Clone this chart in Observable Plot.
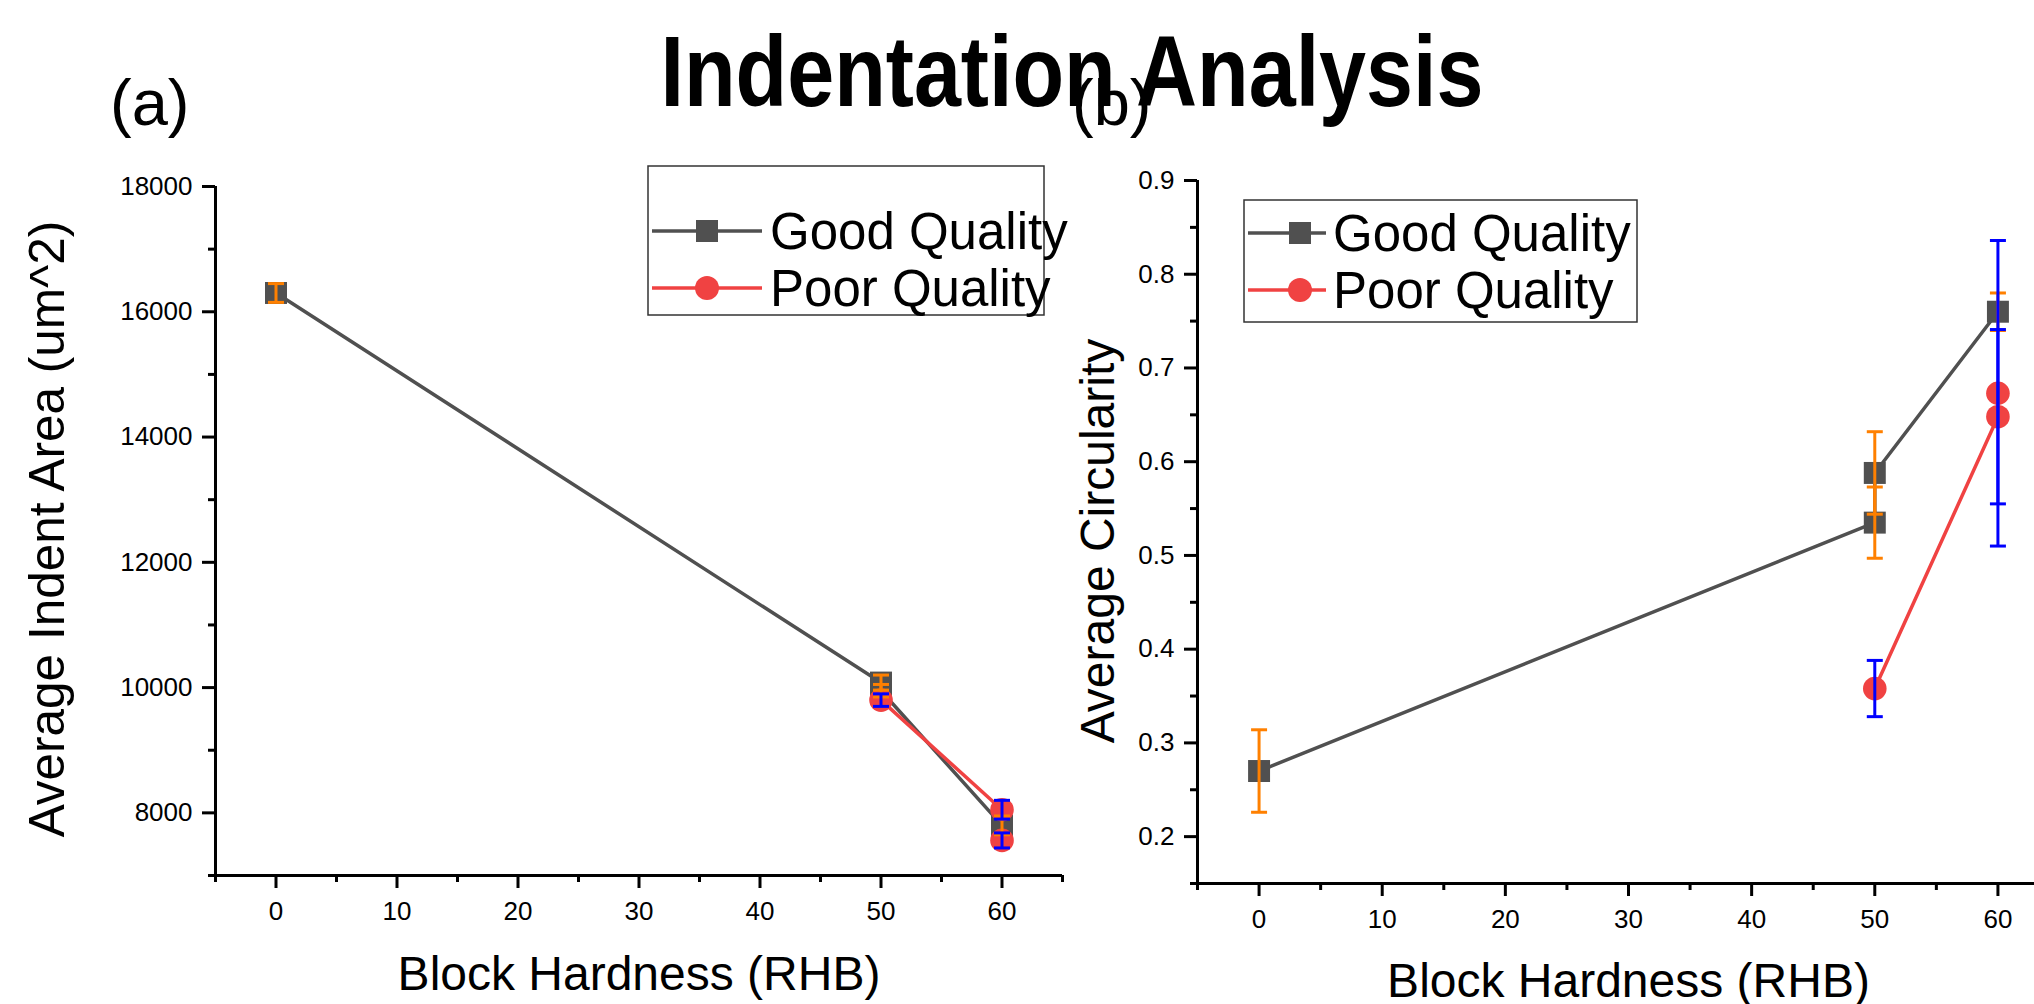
<!DOCTYPE html>
<html><head><meta charset="utf-8">
<script src="https://cdn.jsdelivr.net/npm/d3@7"></script>
<script src="https://cdn.jsdelivr.net/npm/@observablehq/plot@0.6"></script>
<style>
html,body{margin:0;padding:0;background:#fff;overflow:hidden;width:2034px;height:1004px;}
#root{position:relative;width:2034px;height:1004px;font-family:"Liberation Sans",Arial,sans-serif;overflow:hidden;}
.panel{position:absolute;top:0;}
#overlay{position:absolute;left:0;top:0;pointer-events:none;}
</style></head><body><div id="root"></div>
<script>
// ---------- data ----------
const seriesNames = ["Good Quality", "Poor Quality"];
const xTicks = [0, 10, 20, 30, 40, 50, 60];
const xMinor = [-5, 5, 15, 25, 35, 45, 55, 65];

// (a) Average Indent Area
const aGoodX = [0, 50, 50, 60];
const aGoodY = [16300, 10080, 9950, 7800];
const aGoodErr = [150, 120, 100, 150];
const aPoorX = [50, 60, 60];
const aPoorY = [9800, 8050, 7560];
const aPoorErr = [100, 150, 120];
const aYTicks = [8000, 10000, 12000, 14000, 16000, 18000];
const aYMinor = [7000, 9000, 11000, 13000, 15000, 17000];

// (b) Average Circularity
const bGoodX = [0, 50, 50, 60];
const bGoodY = [0.270, 0.535, 0.588, 0.760];
const bGoodErr = [0.044, 0.038, 0.044, 0.020];
const bPoorX = [50, 60, 60];
const bPoorY = [0.358, 0.648, 0.673];
const bPoorErr = [0.030, 0.093, 0.163];
const bYTicks = [0.2, 0.3, 0.4, 0.5, 0.6, 0.7, 0.8, 0.9];
const bYMinor = [0.15, 0.25, 0.35, 0.45, 0.55, 0.65, 0.75, 0.85];

// ---------- styles ----------
const GRAY = "#505050", RED = "#F04242", ORANGE = "#FF8000", BLUE = "#0000FF";
const FONT = "'Liberation Sans', Arial, sans-serif";

const rows = (xs, ys, es) => xs.map((x, i) => ({x, y: ys[i], err: es[i]}));
const capSymbol = {draw(ctx) { ctx.moveTo(-8, 0); ctx.lineTo(8, 0); }};

function errorBars(data, color) {
  const caps = data.flatMap(d => [{x: d.x, y: d.y - d.err}, {x: d.x, y: d.y + d.err}]);
  return [
    Plot.ruleX(data, {x: "x", y1: d => d.y - d.err, y2: d => d.y + d.err, stroke: color, strokeWidth: 3}),
    Plot.dot(caps, {x: "x", y: "y", symbol: capSymbol, r: 8, fill: "none", stroke: color, strokeWidth: 3})
  ];
}

function panel(o) {
  const good = rows(o.gx, o.gy, o.ge), poor = rows(o.px, o.py, o.pe);
  return Plot.plot({
    width: o.width, height: 1004,
    marginLeft: o.ml, marginRight: o.mr, marginTop: o.mt, marginBottom: o.mb,
    style: {fontFamily: FONT, background: "transparent", overflow: "visible", color: "#000"},
    x: {domain: [-5, 65], label: null},
    y: {domain: o.yDomain, label: null},
    marks: [
      Plot.line(good, {x: "x", y: "y", stroke: GRAY, strokeWidth: 3.5}),
      Plot.line(poor, {x: "x", y: "y", stroke: RED, strokeWidth: 3.5}),
      Plot.dot(good, {x: "x", y: "y", symbol: "square", r: 12.4, fill: GRAY, stroke: "none"}),
      Plot.dot(poor, {x: "x", y: "y", symbol: "circle", r: 11.8, fill: RED, stroke: "none"}),
      ...errorBars(good, ORANGE),
      ...errorBars(poor, BLUE),
      Plot.axisX(xMinor, {anchor: "bottom", tickSize: 7, strokeWidth: 3, tickFormat: () => "", label: null}),
      Plot.axisX(xTicks, {anchor: "bottom", tickSize: 13, tickPadding: 13, strokeWidth: 3, fontSize: 26, tickFormat: d => String(d), label: null}),
      Plot.axisY(o.yMinor, {anchor: "left", tickSize: 7, strokeWidth: 3, tickFormat: () => "", label: null}),
      Plot.axisY(o.yTicks, {anchor: "left", tickSize: 13, tickPadding: 10, strokeWidth: 3, fontSize: 26, tickFormat: o.yFmt, label: null}),
      Plot.ruleY([o.yDomain[0]], {stroke: "#000", strokeWidth: 3}),
      Plot.ruleX([-5], {stroke: "#000", strokeWidth: 3}),
      Plot.text(["Block Hardness (RHB)"], {frameAnchor: "bottom", textAnchor: "middle", lineAnchor: "top", dy: o.xTitleDy, fontSize: 48, text: d => d, fill: "#000"}),
      Plot.text([o.yTitle], {frameAnchor: "left", textAnchor: "middle", lineAnchor: "middle", rotate: -90, dx: o.yTitleDx, dy: o.yTitleDy, fontSize: o.yTitleSize, text: d => d, fill: "#000"})
    ]
  });
}

const root = document.getElementById("root");

const left = panel({
  width: 1090, ml: 215, mr: 28, mt: 186, mb: 129,
  yDomain: [7000, 18000], yTicks: aYTicks, yMinor: aYMinor, yFmt: d => String(d),
  gx: aGoodX, gy: aGoodY, ge: aGoodErr, px: aPoorX, py: aPoorY, pe: aPoorErr,
  yTitle: "Average Indent Area (um^2)", yTitleDx: -167, yTitleDy: -2, yTitleSize: 49.5, xTitleDy: 80
});
left.classList.add("panel"); left.style.left = "0px";
root.appendChild(left);

const right = panel({
  width: 1050, ml: 157, mr: 31, mt: 180, mb: 121,
  yDomain: [0.15, 0.9], yTicks: bYTicks, yMinor: bYMinor, yFmt: d => d.toFixed(1),
  gx: bGoodX, gy: bGoodY, ge: bGoodErr, px: bPoorX, py: bPoorY, pe: bPoorErr,
  yTitle: "Average Circularity", yTitleDx: -99, yTitleDy: 9, yTitleSize: 48, xTitleDy: 79
});
right.classList.add("panel"); right.style.left = "1040px";
root.appendChild(right);

// ---------- overlay: title, panel letters, legends ----------
const NS = "http://www.w3.org/2000/svg";
const ov = document.createElementNS(NS, "svg");
ov.setAttribute("id", "overlay");
ov.setAttribute("width", 2034); ov.setAttribute("height", 1004);
ov.style.fontFamily = FONT;
root.appendChild(ov);
function el(tag, attrs, text) {
  const e = document.createElementNS(NS, tag);
  for (const k in attrs) e.setAttribute(k, attrs[k]);
  if (text != null) e.textContent = text;
  ov.appendChild(e);
  return e;
}
el("text", {x: 110, y: 125, "font-size": 65}, "(a)");
el("text", {x: 1072, y: 125, "font-size": 65}, "(b)");
el("text", {transform: "translate(1072,106) scale(0.845,1)", "text-anchor": "middle", "font-size": 100, "font-weight": "bold"}, "Indentation Analysis");

function legend(bx, by, bw, bh, rowsY, mx, lineL, lineR, tx) {
  el("rect", {x: bx, y: by, width: bw, height: bh, fill: "#fff", stroke: "#333", "stroke-width": 1.5});
  // Good
  el("line", {x1: lineL, x2: lineR, y1: rowsY[0], y2: rowsY[0], stroke: GRAY, "stroke-width": 3.5});
  el("rect", {x: mx - 11, y: rowsY[0] - 11, width: 22, height: 22, fill: GRAY});
  el("text", {x: tx, y: rowsY[0], dy: "0.35em", "font-size": 51}, seriesNames[0]);
  // Poor
  el("line", {x1: lineL, x2: lineR, y1: rowsY[1], y2: rowsY[1], stroke: RED, "stroke-width": 3.5});
  el("circle", {cx: mx, cy: rowsY[1], r: 12, fill: RED});
  el("text", {x: tx, y: rowsY[1], dy: "0.35em", "font-size": 51}, seriesNames[1]);
}
legend(648, 166, 396, 149, [231, 288], 707, 652, 762, 770);
legend(1244, 200, 393, 122, [233, 290], 1300, 1248, 1326, 1333);
</script></body></html>
